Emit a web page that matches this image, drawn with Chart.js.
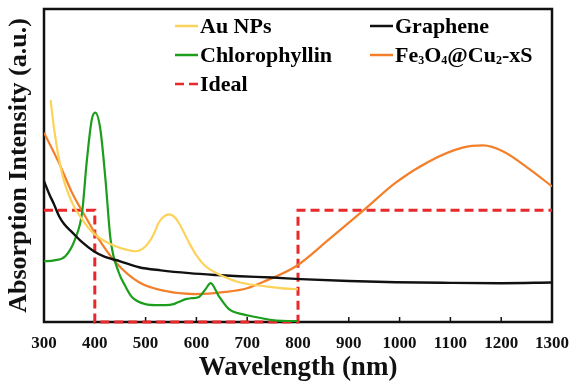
<!DOCTYPE html>
<html><head><meta charset="utf-8">
<script src="https://cdn.jsdelivr.net/npm/chart.js@4.4.0/dist/chart.umd.min.js"></script>
<style>html,body{margin:0;padding:0;background:#fff}#wrap{width:571px;height:382px}</style>
</head><body><div id="wrap"><canvas id="c"></canvas></div>
<script>
// ---- data ----
const xTickValues = [300,400,500,600,700,800,900,1000,1100,1200,1300];

const auX = [313,320,335,355,375,395,420,441,460,480,500,515,526,537,546,555,565,585,600,618,640,657,684,730,796,800];
const auY = [0.71,0.615,0.478,0.382,0.328,0.287,0.258,0.242,0.232,0.226,0.242,0.277,0.318,0.338,0.344,0.338,0.318,0.255,0.213,0.178,0.156,0.143,0.127,0.115,0.105,0.105];

const grapheneX = [300,310,320,330,340,355,375,398,420,450,487,530,586,640,685,750,805,900,993,1100,1200,1300];
const grapheneY = [0.45,0.41,0.375,0.337,0.312,0.287,0.255,0.226,0.208,0.194,0.175,0.165,0.156,0.150,0.146,0.142,0.137,0.131,0.127,0.125,0.124,0.126];

const chloroX = [300,320,342,361,375,384,394,401,411,421,431,447,460,473,500,520,539,555,565,579,590,605,618,628,644,664,690,717,749,796,800];
const chloroY = [0.194,0.197,0.21,0.264,0.35,0.51,0.646,0.669,0.615,0.455,0.264,0.159,0.115,0.08,0.057,0.054,0.054,0.057,0.064,0.073,0.076,0.08,0.105,0.124,0.083,0.041,0.025,0.016,0.006,0.003,0.003];

const feX = [300,329,355,381,408,441,487,539,598,657,700,730,796,861,927,993,1058,1124,1164,1204,1257,1300];
const feY = [0.605,0.51,0.414,0.338,0.264,0.191,0.127,0.099,0.089,0.096,0.108,0.127,0.178,0.264,0.354,0.446,0.513,0.557,0.564,0.545,0.487,0.433];

const idealX = [300,400,400,800,800,1300];
const idealY = [0.357,0.357,0,0,0.357,0.357];

const labels = ['Au NPs','Graphene','Chlorophyllin','Fe₃O₄@Cu₂-xS','Ideal'];

function pts(xs, ys){ return xs.map((x,i)=>({x:x,y:ys[i]})); }

const SERIF = '"Liberation Serif","Times New Roman",serif';

const framePlugin = {
  id:'frame',
  beforeDatasetsDraw(chart){
    const {ctx, chartArea:a} = chart;
    const xs = chart.scales.x;
    ctx.save();
    ctx.strokeStyle = '#111';
    ctx.lineWidth = 2.5;
    ctx.strokeRect(a.left, a.top, a.right - a.left, a.bottom - a.top);
    ctx.lineWidth = 1.5;
    xs.ticks.forEach(t=>{
      const px = xs.getPixelForValue(t.value);
      ctx.beginPath(); ctx.moveTo(px, a.bottom); ctx.lineTo(px, a.bottom - 5); ctx.stroke();
    });
    ctx.restore();
  },
  afterDatasetsDraw(chart){
    const ctx = chart.ctx;
    const ds = chart.data.datasets;
    const cols = [175, 370];
    const rows = [26, 55, 84];
    ctx.save();
    ds.forEach((d,i)=>{
      const cx = cols[i % 2], cy = rows[Math.floor(i/2)];
      ctx.strokeStyle = d.borderColor;
      ctx.lineWidth = 2.5;
      ctx.setLineDash(d.borderDash || []);
      ctx.beginPath(); ctx.moveTo(cx, cy); ctx.lineTo(cx + 23, cy); ctx.stroke();
      ctx.setLineDash([]);
      let x = cx + 25;
      ctx.fillStyle = '#000';
      ctx.textBaseline = 'alphabetic';
      const base = cy + 7;
      for (const ch of d.label){
        const code = ch.charCodeAt(0);
        if (code >= 0x2080 && code <= 0x2089){
          const digit = String(code - 0x2080);
          ctx.font = 'bold 12px ' + SERIF;
          ctx.fillText(digit, x, base + 2);
          x += ctx.measureText(digit).width;
        } else {
          ctx.font = 'bold 22px ' + SERIF;
          ctx.fillText(ch, x, base);
          x += ctx.measureText(ch).width;
        }
      }
    });
    ctx.restore();
  }
};

const common = {pointRadius:0, fill:false, cubicInterpolationMode:'monotone', borderWidth:2.2};

new Chart(document.getElementById('c'), {
  type:'line',
  data:{
    datasets:[
      Object.assign({label:labels[0], data:pts(auX,auY), borderColor:'#fdd25a'}, common),
      Object.assign({label:labels[1], data:pts(grapheneX,grapheneY), borderColor:'#111111'}, common, {borderWidth:2.4}),
      Object.assign({label:labels[2], data:pts(chloroX,chloroY), borderColor:'#1c9e1c'}, common),
      Object.assign({label:labels[3], data:pts(feX,feY), borderColor:'#f47f2a'}, common),
      {label:labels[4], data:pts(idealX,idealY), borderColor:'#e8282a', borderDash:[9,5], borderWidth:3, pointRadius:0, tension:0, fill:false, clip:false}
    ]
  },
  options:{
    responsive:true, maintainAspectRatio:false, animation:false, devicePixelRatio:1,
    layout:{padding:{left:6, right:19, top:9, bottom:0}},
    plugins:{legend:{display:false}, tooltip:{enabled:false}},
    scales:{
      x:{type:'linear', min:300, max:1300,
        afterBuildTicks(s){ s.ticks = xTickValues.map(v=>({value:v})); },
        afterFit(s){ s.paddingRight = 0; s.paddingLeft = 0; },
        ticks:{font:{family:SERIF, size:17, weight:'bold'}, color:'#111', padding:11.8, autoSkip:false, maxRotation:0,
          callback:(v)=>String(v)},
        grid:{display:false, drawTicks:false, tickLength:0}, border:{display:false},
        title:{display:true, text:'Wavelength (nm)', font:{family:SERIF, size:27, weight:'bold', lineHeight:1}, color:'#111', padding:{top:-11, bottom:0}}
      },
      y:{min:0, max:1,
        ticks:{display:false}, grid:{display:false, drawTicks:false, tickLength:0}, border:{display:false},
        title:{display:true, text:'Absorption Intensity (a.u.)', font:{family:SERIF, size:26, weight:'bold', lineHeight:1}, color:'#111', padding:{top:0, bottom:12}}
      }
    }
  },
  plugins:[framePlugin]
});
</script>
</body></html>
